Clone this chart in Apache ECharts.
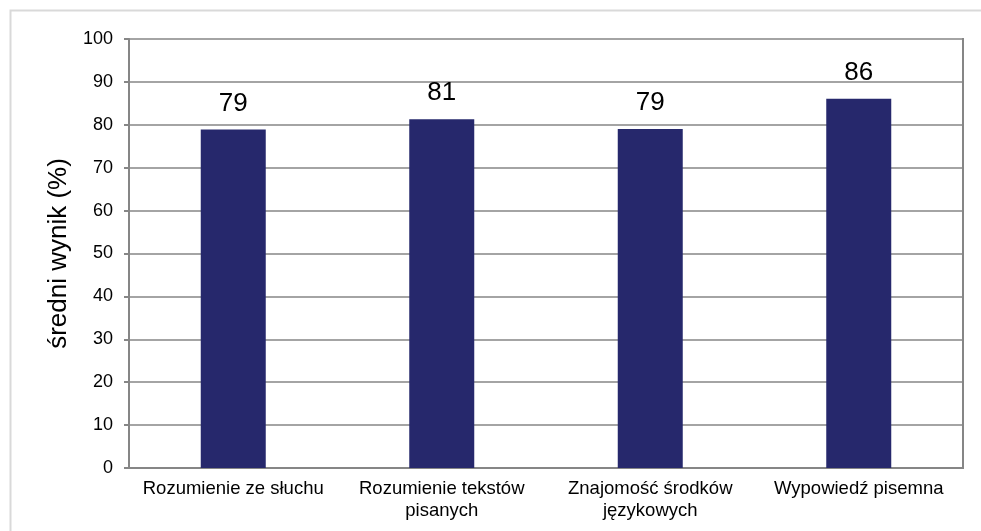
<!DOCTYPE html>
<html>
<head>
<meta charset="utf-8">
<script src="https://cdn.jsdelivr.net/npm/echarts@6/dist/echarts.min.js"></script>
<style>
  html, body { margin: 0; padding: 0; background: #fff; }
  #main { width: 981px; height: 531px; }
</style>
</head>
<body>
<div id="main"></div>
<script>
// kategorie i wyniki
var categories = ['Rozumienie ze słuchu', 'Rozumienie tekstów\npisanych', 'Znajomość środków\njęzykowych', 'Wypowiedź pisemna'];
var scores = [78.9, 81.3, 79.0, 86.1];
var yTicks = [0, 10, 20, 30, 40, 50, 60, 70, 80, 90, 100];

var chart = echarts.init(document.getElementById('main'));
var option = {
  animation: false,
  textStyle: { fontFamily: 'Liberation Sans, Arial, sans-serif' },
  grid: { left: 129, right: 18, top: 39, bottom: 63, containLabel: false },
  xAxis: {
    type: 'category',
    data: categories,
    axisLine: { lineStyle: { color: '#868686', width: 2 } },
    axisTick: { show: false },
    axisLabel: { color: '#000', fontSize: 18.5, margin: 10, lineHeight: 22, interval: 0 }
  },
  yAxis: {
    type: 'value',
    min: yTicks[0],
    max: yTicks[yTicks.length - 1],
    interval: 10,
    name: 'średni wynik (%)',
    nameLocation: 'middle',
    nameGap: 54,
    nameRotate: 90,
    nameTextStyle: { color: '#000', fontSize: 26 },
    axisLine: { show: true, lineStyle: { color: '#868686', width: 2 } },
    axisTick: { show: true, length: 5, lineStyle: { color: '#868686', width: 2 } },
    axisLabel: { color: '#000', fontSize: 18, margin: 16 },
    splitLine: { lineStyle: { color: '#868686', width: 1.5 } }
  },
  series: [{
    type: 'bar',
    data: scores,
    barWidth: 65,
    itemStyle: { color: '#26286c' },
    label: {
      show: true,
      position: 'top',
      distance: 13,
      color: '#000',
      fontSize: 26,
      formatter: function (p) { return Math.round(p.value); }
    }
  }],
  // ramka wokol calosci i prawa krawedz obszaru wykresu
  graphic: [{
    type: 'rect',
    shape: { x: 10.5, y: 10.5, width: 1000, height: 600 },
    style: { fill: 'none', stroke: '#d9d9d9', lineWidth: 2 },
    silent: true
  }, {
    type: 'line',
    shape: { x1: 963, y1: 38, x2: 963, y2: 469 },
    style: { stroke: '#868686', lineWidth: 2 },
    silent: true
  }]
};
chart.setOption(option);
</script>
</body>
</html>
